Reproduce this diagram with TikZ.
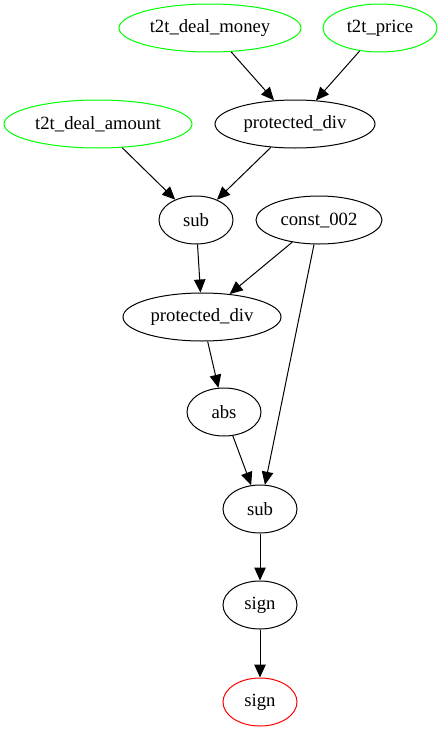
\documentclass[tikz,border=0pt]{standalone}
\usepackage{fontspec}
\setmainfont{Liberation Serif}
\usetikzlibrary{shapes.geometric,arrows.meta}

\definecolor{leafGreen}{RGB}{0,255,0}
\definecolor{rootRed}{RGB}{255,0,0}

\begin{document}
\begin{tikzpicture}[x=1pt, y=-1pt,
   font=\fontsize{18.7}{22}\selectfont,
   op/.style={draw=black, ellipse, line width=1pt, inner sep=0pt, minimum height=48pt},
   leaf/.style={op, draw=leafGreen},
   root/.style={op, draw=rootRed},
   edge/.style={line width=1pt, -{Triangle[length=13pt, width=11.5pt]}}]

  \useasboundingbox (0,0) rectangle (442,731);

  % ===== inputs =====
  \node[leaf, minimum width=182pt] (money) at (210,28) {t2t\_deal\_money};
  \node[leaf, minimum width=114pt] (price) at (380,28) {t2t\_price};
  \node[leaf, minimum width=188pt] (amount) at (98,124) {t2t\_deal\_amount};

  % ===== operators =====
  \node[op, minimum width=160pt] (divA) at (295,124) {protected\_div};
  \node[op, minimum width=74pt] (subA) at (196,220) {sub};
  \node[op, minimum width=126pt] (const) at (319,220) {const\_002};
  \node[op, minimum width=158pt] (divB) at (202,317) {protected\_div};
  \node[op, minimum width=74pt] (absA) at (224,412) {abs};
  \node[op, minimum width=74pt] (subB) at (260,509) {sub};
  \node[op, minimum width=74pt] (signA) at (260,605) {sign};
  \node[root, minimum width=74pt] (signB) at (260,702) {sign};

  % ===== edges =====
  \draw[edge] (money) -- (divA);
  \draw[edge] (price) -- (divA);
  \draw[edge] (amount) -- (subA);
  \draw[edge] (divA) -- (subA);
  \draw[edge] (subA) -- (divB);
  \draw[edge] (const) -- (divB);
  \draw[edge] (divB) -- (absA);
  \draw[edge] (absA) -- (subB);
  \draw[edge] (const) -- (subB);
  \draw[edge] (subB) -- (signA);
  \draw[edge] (signA) -- (signB);

\end{tikzpicture}
\end{document}
